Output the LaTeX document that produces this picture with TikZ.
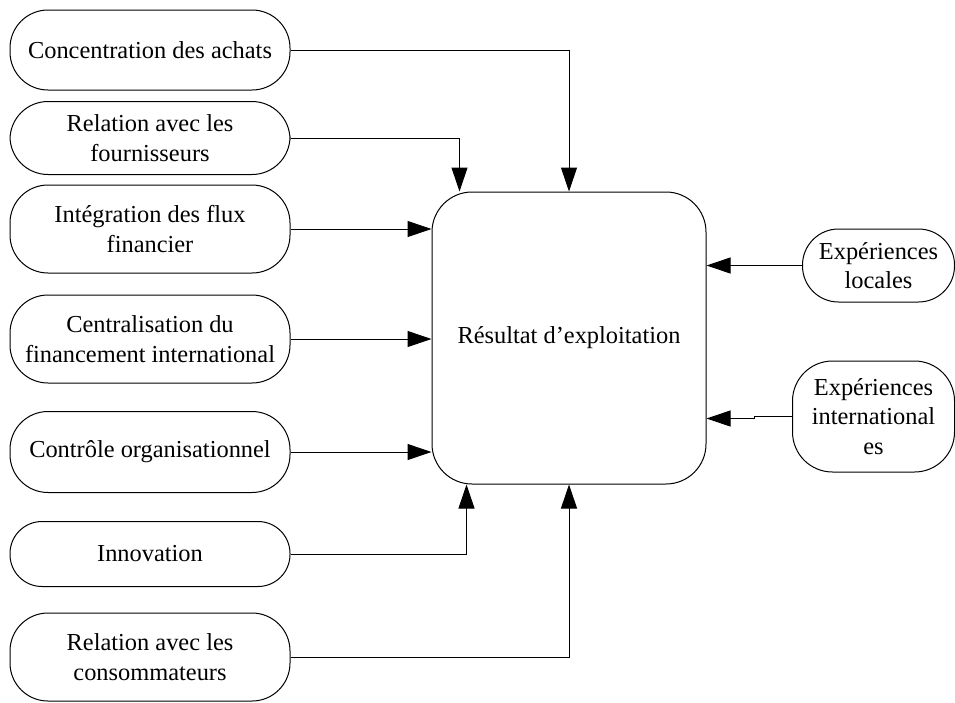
\documentclass[tikz,border=0pt]{standalone}
\usepackage{fontspec}
\setmainfont{Liberation Serif}
\usetikzlibrary{arrows.meta}
\begin{document}
\begin{tikzpicture}[x=1pt,y=-1pt,
  box/.style={draw, line width=1pt, rounded corners=38pt, align=center, inner sep=0pt,
    font=\fontsize{24.4}{29.5}\selectfont},
  lbox/.style={box, minimum width=280pt},
  arr/.style={line width=1pt, -{Triangle[length=24pt,width=16pt]}}]
\useasboundingbox (0,0) rectangle (955,702);
\node[lbox, minimum height=80pt] (n1) at (150,50) {Concentration des achats};
\node[lbox, minimum height=73pt] (n2) at (150,138) {Relation avec les\\fournisseurs};
\node[lbox, minimum height=88pt] (n3) at (150,229) {Intégration des flux\\financier};
\node[lbox, minimum height=88pt] (n4) at (150,339) {Centralisation du\\financement international};
\node[lbox, minimum height=81pt] (n5) at (150,452) {Contrôle organisationnel};
\node[lbox, minimum height=65pt, rounded corners=32pt] (n6) at (150,554) {Innovation};
\node[lbox, minimum height=88pt] (n7) at (150,657) {Relation avec les\\consommateurs};
\node[box, minimum width=274pt, minimum height=292pt, rounded corners=40pt] (c) at (569,338) {Résultat d’exploitation};
\node[box, minimum width=152pt, minimum height=73pt, rounded corners=36pt] (loc) at (878.5,265.5) {Expériences\\locales};
\node[box, minimum width=162pt, minimum height=111pt, rounded corners=40pt] (int) at (873.5,416.5) {Expériences\\international\\es};
\coordinate (t2) at ([xshift=28pt]c.north west);
\coordinate (b6) at ([xshift=35pt]c.south west);
\draw[arr] (n1.east) -| (c.north);
\draw[arr] (n2.east) -| (t2);
\draw[arr] (n3.east) -- (n3.east -| c.west);
\draw[arr] (n4.east) -- (n4.east -| c.west);
\draw[arr] (n5.east) -- (n5.east -| c.west);
\draw[arr] (n6.east) -| (b6);
\draw[arr] (n7.east) -| (c.south);
\draw[arr] (loc.west) -- (loc.west -| c.east);
\coordinate (j1) at ([xshift=-38pt]int.west);
\coordinate (j2) at ([yshift=-2pt]j1);
\draw[arr] (int.west) -- (j1) -- (j2) -- (j2 -| c.east);
\end{tikzpicture}
\end{document}
